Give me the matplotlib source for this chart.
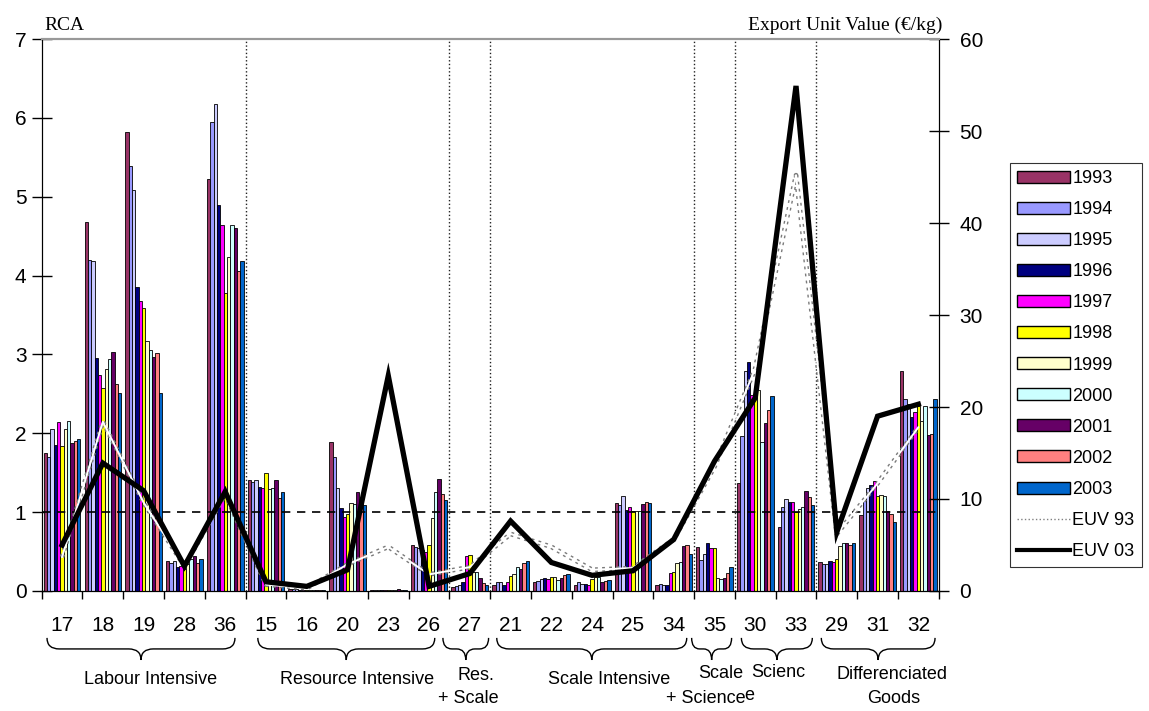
import numpy as np
import matplotlib.pyplot as plt
from matplotlib.path import Path
from matplotlib.patches import PathPatch, Patch
from matplotlib.lines import Line2D

plt.rcParams['font.family'] = ['Liberation Sans', 'DejaVu Sans']

# categories (industry codes) in chart order
categories = ['17', '18', '19', '28', '36', '15', '16', '20', '23', '26', '27',
              '21', '22', '24', '25', '34', '35', '30', '33', '29', '31', '32']
years = ['1993', '1994', '1995', '1996', '1997', '1998', '1999', '2000', '2001', '2002', '2003']

# RCA values per year
rca_1993 = [1.75, 4.68, 5.82, 0.38, 5.22, 1.41, 0.02, 1.89, 0.01, 0.58, 0.05, 0.07, 0.12, 0.08, 1.11, 0.08, 0.56, 1.37, 0.81, 0.37, 0.96, 2.79]
rca_1994 = [1.70, 4.20, 5.39, 0.36, 5.95, 1.38, 0.02, 1.70, 0.01, 0.56, 0.06, 0.11, 0.13, 0.11, 1.09, 0.09, 0.39, 1.96, 1.07, 0.34, 1.17, 2.44]
rca_1995 = [2.05, 4.19, 5.09, 0.38, 6.17, 1.41, 0.02, 1.30, 0.01, 0.55, 0.07, 0.12, 0.15, 0.09, 1.21, 0.07, 0.47, 2.79, 1.17, 0.34, 1.30, 2.37]
rca_1996 = [1.85, 2.96, 3.85, 0.30, 4.90, 1.32, 0.01, 1.05, 0.01, 0.52, 0.12, 0.08, 0.16, 0.09, 1.03, 0.08, 0.61, 2.91, 1.13, 0.38, 1.35, 2.21]
rca_1997 = [2.14, 2.74, 3.68, 0.32, 4.64, 1.30, 0.01, 0.94, 0.01, 0.50, 0.45, 0.11, 0.15, 0.07, 1.06, 0.23, 0.54, 2.48, 1.13, 0.37, 1.40, 2.27]
rca_1998 = [1.84, 2.57, 3.59, 0.28, 3.78, 1.49, 0.01, 0.98, 0.01, 0.58, 0.46, 0.19, 0.18, 0.15, 1.01, 0.24, 0.55, 2.54, 1.00, 0.40, 1.20, 2.34]
rca_1999 = [2.05, 2.81, 3.17, 0.34, 4.23, 1.29, 0.01, 1.12, 0.01, 0.92, 0.24, 0.22, 0.18, 0.18, 1.01, 0.35, 0.17, 2.55, 1.04, 0.57, 1.22, 2.16]
rca_2000 = [2.15, 2.94, 3.05, 0.41, 4.64, 1.30, 0.01, 1.10, 0.01, 1.25, 0.24, 0.31, 0.14, 0.18, 1.01, 0.37, 0.15, 1.89, 1.06, 0.61, 1.20, 2.34]
rca_2001 = [1.88, 3.03, 2.97, 0.44, 4.60, 1.41, 0.01, 1.25, 0.02, 1.42, 0.16, 0.28, 0.17, 0.11, 1.10, 0.57, 0.17, 2.13, 1.27, 0.61, 1.01, 1.98]
rca_2002 = [1.90, 2.62, 3.02, 0.36, 4.06, 1.18, 0.01, 1.17, 0.01, 1.23, 0.10, 0.36, 0.20, 0.13, 1.13, 0.58, 0.23, 2.30, 1.19, 0.58, 0.98, 1.99]
rca_2003 = [1.93, 2.51, 2.51, 0.40, 4.19, 1.26, 0.01, 1.09, 0.01, 1.16, 0.08, 0.38, 0.22, 0.14, 1.12, 0.47, 0.31, 2.47, 1.09, 0.61, 0.87, 2.44]

# export unit values (EUR/kg)
euv_93 = [3.7, 18.4, 9.6, 2.7, 10.5, 0.7, 0.3, 2.9, 4.8, 1.8, 2.6, 6.2, 4.8, 2.3, 2.5, 5.6, 13.5, 24.2, 45.2, 6.2, 11.7, 17.8]
euv_03 = [5.0, 13.9, 10.9, 2.7, 10.8, 1.0, 0.5, 2.3, 23.4, 0.5, 1.9, 7.6, 3.1, 1.7, 2.2, 5.6, 14.1, 21.0, 54.9, 6.4, 19.0, 20.3]

# groups: (first index, last index)
group_ranges = [(0, 4), (5, 9), (10, 10), (11, 15), (16, 16), (17, 18), (19, 21)]

rca = [rca_1993, rca_1994, rca_1995, rca_1996, rca_1997, rca_1998,
       rca_1999, rca_2000, rca_2001, rca_2002, rca_2003]
colors = ['#993366', '#9999FF', '#CCCCFF', '#000080', '#FF00FF', '#FFFF00',
          '#FFFFCC', '#CCFFFF', '#660066', '#FF8080', '#0066CC']

fig = plt.figure(figsize=(11.49, 7.11), dpi=100)
ax = fig.add_axes([0.0363, 0.1688, 0.7807, 0.7763])

x = np.arange(len(categories))
n = len(years)
w = 0.9 / n
for i in range(n):
    ax.bar(x - 0.45 + w * (i + 0.5), rca[i], width=w, color=colors[i],
           edgecolor='black', linewidth=0.6, zorder=2)

ax.set_xlim(-0.5, len(categories) - 0.5)
ax.set_ylim(0, 7)
ax.set_yticks(range(8))
ax.set_xticks(np.arange(len(categories) + 1) - 0.5)
ax.set_xticklabels([])
ax.tick_params(axis='x', direction='out', length=6, width=1)
ax.tick_params(axis='y', direction='inout', length=14, width=1, labelsize=15, pad=4)
ax.axhline(1, color='black', ls=(0, (5, 4)), lw=1.2, zorder=3)
for g0, g1 in group_ranges[:-1]:
    ax.axvline(g1 + 0.5, color='#222222', ls=':', lw=1.0, zorder=3)
ax.spines['top'].set_color('#999999')
ax.spines['top'].set_linewidth(1.5)

ax2 = ax.twinx()
ax2.set_ylim(0, 60)
ax2.set_yticks(range(0, 61, 10))
ax2.tick_params(axis='y', direction='inout', length=14, width=1, labelsize=15, pad=8)
ax2.plot(x, euv_93, color='#7a7a7a', ls=(0, (0.6, 0.9)), lw=3.4, zorder=4)
ax2.plot(x, euv_93, color='white', lw=1.4, zorder=5)
ax2.plot(x, euv_03, color='black', lw=3.8, zorder=6, solid_joinstyle='miter')
ax2.spines['top'].set_color('#999999')
ax2.spines['top'].set_linewidth(1.5)

fig.text(0.039, 0.958, 'RCA', family='Liberation Serif', fontsize=14)
fig.text(0.820, 0.958, 'Export Unit Value (\u20ac/kg)', family='Liberation Serif',
         fontsize=14, ha='right')

# category labels under the axis
tr = ax.get_xaxis_transform()
for i, c in enumerate(categories):
    ax.text(i, -0.062, c, transform=tr, ha='center', va='center', fontsize=15)

# braces
brace_ext = [(-0.37, 4.24), (4.80, 9.14), (9.34, 10.46), (10.66, 15.32),
             (15.44, 16.42), (16.66, 18.40), (18.62, 21.41)]
y0, y1, y2 = -0.085, -0.105, -0.125
for b0, b1 in brace_ext:
    xm = (b0 + b1) / 2
    r = min(0.3, (b1 - b0) / 5)
    verts = [(b0, y0), (b0, y1), (b0 + r, y1), (xm - r, y1), (xm, y1), (xm, y2),
             (xm, y1), (xm + r, y1), (b1 - r, y1), (b1, y1), (b1, y0)]
    codes = [Path.MOVETO, Path.CURVE3, Path.CURVE3, Path.LINETO, Path.CURVE3, Path.CURVE3,
             Path.CURVE3, Path.CURVE3, Path.LINETO, Path.CURVE3, Path.CURVE3]
    ax.add_patch(PathPatch(Path(verts, codes), transform=tr, fill=False,
                           edgecolor='black', lw=1, clip_on=False))

group_texts = [(2.18, -0.161, 'Labour Intensive'), (7.23, -0.161, 'Resource Intensive'),
               (10.15, -0.154, 'Res.'), (9.96, -0.194, '+ Scale'),
               (13.41, -0.161, 'Scale Intensive'), (16.15, -0.150, 'Scale'),
               (15.78, -0.194, '+ Science'), (16.86, -0.190, 'e'),
               (17.56, -0.147, 'Scienc'), (20.36, -0.152, 'Differenciated'),
               (20.39, -0.194, 'Goods')]
for gx, gy, t in group_texts:
    ax.text(gx, gy, t, transform=tr, ha='center', va='center', fontsize=13)

handles = [Patch(facecolor=colors[i], edgecolor='black', linewidth=1) for i in range(n)]
handles += [Line2D([], [], color='#808080', ls=':', lw=1),
            Line2D([], [], color='black', lw=3)]
leg = fig.legend(handles, years + ['EUV 93', 'EUV 03'], loc='upper left',
                 bbox_to_anchor=(0.879, 0.771), fontsize=13, frameon=True,
                 fancybox=False, edgecolor='black', handlelength=2.9,
                 handleheight=0.65, handletextpad=0.15, labelspacing=0.78,
                 borderpad=0.4, borderaxespad=0)
leg.get_frame().set_linewidth(0.8)

fig.savefig('out.png', dpi=100)
